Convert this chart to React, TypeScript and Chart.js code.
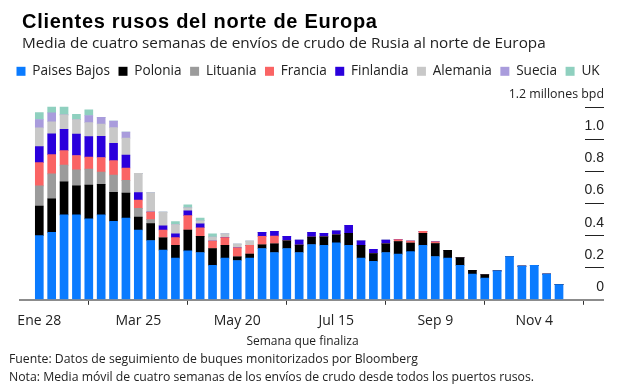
import React, { useEffect, useRef } from "react";
import { Chart, registerables } from "chart.js";

Chart.register(...registerables);

const WEEKS = [
  "Ene 28", "Feb 4", "Feb 11", "Feb 18", "Feb 25", "Mar 4", "Mar 11", "Mar 18",
  "Mar 25", "Abr 1", "Abr 8", "Abr 15", "Abr 22", "Abr 29", "May 6", "May 13",
  "May 20", "May 27", "Jun 3", "Jun 10", "Jun 17", "Jun 24", "Jul 1", "Jul 8",
  "Jul 15", "Jul 22", "Jul 29", "Ago 5", "Ago 12", "Ago 19", "Ago 26", "Sep 2",
  "Sep 9", "Sep 16", "Sep 23", "Sep 30", "Oct 7", "Oct 14", "Oct 21", "Oct 28",
  "Nov 4", "Nov 11", "Nov 18",
];
const TICK_WEEKS = [0, 8, 16, 24, 32, 40];
const Y_TICKS = [0, 0.2, 0.4, 0.6, 0.8, 1.0, 1.2];

const PAISES_BAJOS = [
  0.40, 0.42, 0.53, 0.53, 0.505, 0.53, 0.49, 0.51, 0.435, 0.37,
  0.31, 0.26, 0.305, 0.295, 0.215, 0.26, 0.245, 0.26, 0.32, 0.295,
  0.32, 0.295, 0.345, 0.34, 0.355, 0.34, 0.26, 0.24, 0.295, 0.285,
  0.30, 0.34, 0.27, 0.26, 0.215, 0.16, 0.135, 0.18, 0.27, 0.21,
  0.215, 0.16, 0.095,
];
const POLONIA = [
  0.185, 0.21, 0.205, 0.18, 0.21, 0.19, 0.18, 0.155, 0.08, 0.105,
  0.077, 0.08, 0.13, 0.10, 0.105, 0.08, 0.023, 0.025, 0.023, 0.054,
  0.048, 0.046, 0.046, 0.052, 0.05, 0.075, 0.08, 0.048, 0.054, 0.078,
  0.054, 0.075, 0.08, 0.048, 0.048, 0.023, 0.023, 0, 0, 0,
  0, 0, 0,
];
const LITUANIA = [
  0.125, 0.155, 0.105, 0.10, 0.10, 0.077, 0.108, 0.08, 0.055, 0.025,
  0, 0, 0, 0, 0, 0, 0, 0, 0, 0,
  0, 0, 0, 0, 0, 0, 0, 0, 0, 0,
  0, 0, 0, 0, 0, 0, 0, 0, 0, 0,
  0, 0, 0,
];
const FRANCIA = [
  0.145, 0.12, 0.09, 0.09, 0.075, 0.09, 0.09, 0.077, 0.052, 0.047,
  0.048, 0.048, 0.09, 0.054, 0.046, 0.048, 0.056, 0.054, 0.052, 0.048,
  0, 0, 0, 0, 0, 0, 0, 0, 0, 0.012,
  0.012, 0.012, 0.012, 0, 0, 0, 0, 0, 0, 0,
  0, 0, 0,
];
const FINLANDIA = [
  0.10, 0.13, 0.133, 0.133, 0.127, 0.133, 0.108, 0.08, 0.046, 0,
  0.027, 0.023, 0.029, 0.025, 0, 0, 0, 0, 0.025, 0.03,
  0.027, 0.031, 0.029, 0.023, 0.025, 0.05, 0.027, 0.027, 0.023, 0,
  0, 0, 0, 0, 0, 0, 0, 0, 0, 0,
  0, 0, 0,
];
const ALEMANIA = [
  0.117, 0.075, 0.09, 0.09, 0.088, 0.075, 0.098, 0.106, 0.12, 0.12,
  0.085, 0.058, 0.019, 0.019, 0.025, 0.023, 0.023, 0.027, 0, 0,
  0, 0, 0, 0, 0, 0, 0, 0, 0, 0,
  0, 0, 0, 0, 0, 0, 0, 0, 0, 0,
  0, 0, 0,
];
const SUECIA = [
  0.052, 0.056, 0, 0, 0.044, 0.042, 0.04, 0.038, 0, 0,
  0, 0, 0, 0, 0, 0, 0, 0, 0, 0,
  0, 0, 0, 0, 0, 0, 0, 0, 0, 0,
  0, 0, 0, 0, 0, 0, 0, 0, 0, 0,
  0, 0, 0,
];
const UK = [
  0.044, 0.035, 0.048, 0.033, 0.035, 0, 0, 0, 0, 0,
  0, 0.019, 0.019, 0.017, 0.021, 0, 0, 0, 0, 0,
  0, 0, 0, 0, 0, 0, 0, 0, 0, 0,
  0, 0, 0, 0, 0, 0, 0, 0, 0, 0,
  0, 0, 0,
];

const SERIES_NAMES = ["Paises Bajos", "Polonia", "Lituania", "Francia", "Finlandia", "Alemania", "Suecia", "UK"];
const SERIES_VALUES = [PAISES_BAJOS, POLONIA, LITUANIA, FRANCIA, FINLANDIA, ALEMANIA, SUECIA, UK];
const SERIES_COLORS = ["#0a7bff", "#000000", "#9b9b9b", "#fa6464", "#2a00dc", "#c8c8c8", "#a99cdc", "#8fd0bf"];

const SEGOE = "'Open Sans', 'Noto Sans', sans-serif";
const ARIAL = "'Liberation Sans', Arial, sans-serif";

export default function App() {
  const ref = useRef<HTMLCanvasElement | null>(null);

  useEffect(() => {
    if (!ref.current) return;
    const datasets = SERIES_NAMES.map((name, k) => ({
      label: name,
      data: SERIES_VALUES[k].map((v, i) => ({ x: i, y: v })),
      backgroundColor: SERIES_COLORS[k],
      borderWidth: 0,
      barThickness: 8,
      stack: "s",
    }));
    const chart = new Chart(ref.current, {
      type: "bar",
      data: { datasets },
      options: {
        animation: false,
        responsive: false,
        maintainAspectRatio: false,
        layout: { padding: { left: 8, right: 0, top: 56, bottom: 41 } },
        plugins: {
          legend: {
            display: true,
            position: "top",
            align: "start",
            labels: {
              boxWidth: 9,
              boxHeight: 9,
              padding: 8.5,
              color: "#222",
              font: { family: SEGOE, size: 13.6 },
            },
          },
          tooltip: { enabled: false },
        },
        scales: {
          x: {
            type: "linear",
            min: -1.56,
            max: 44.1,
            stacked: true,
            offset: false,
            afterBuildTicks: (s: any) => {
              s.ticks = TICK_WEEKS.map((v) => ({ value: v }));
            },
            ticks: {
              autoSkip: false,
              maxRotation: 0,
              padding: 8,
              color: "#222",
              font: { family: SEGOE, size: 14 },
              callback: (v: any) => WEEKS[v] ?? "",
            },
            grid: { drawOnChartArea: false, drawTicks: true, tickLength: 5, color: "#333" },
            border: { display: true, color: "#8c8c8c", width: 2 },
            title: {
              display: true,
              text: "Semana que finaliza",
              color: "#222",
              font: { family: SEGOE, size: 12 },
              padding: { top: -3, bottom: 0 },
            },
          },
          y: {
            type: "linear",
            position: "right",
            stacked: true,
            min: 0,
            max: 1.32,
            afterBuildTicks: (s: any) => {
              s.ticks = Y_TICKS.map((v) => ({ value: v }));
            },
            afterFit: (s: any) => {
              s.width = 50;
            },
            ticks: {
              mirror: true,
              padding: 19,
              labelOffset: -13,
              color: "#222",
              font: (ctx: any) =>
                ctx.tick && ctx.tick.value === 1.2
                  ? { family: SEGOE, size: 12.4 }
                  : { family: ARIAL, size: 14 },
              callback: (v: any) => (v === 1.2 ? "1.2 millones bpd" : v === 0 ? "0" : Number(v).toFixed(1)),
            },
            grid: {
              drawOnChartArea: false,
              drawTicks: true,
              tickLength: 19,
              color: (ctx: any) => (ctx.tick && ctx.tick.value === 0 ? "#8c8c8c" : "#222"),
              lineWidth: (ctx: any) => (ctx.tick && ctx.tick.value === 0 ? 2 : 1),
            },
            border: { display: false },
          },
          yl: {
            type: "linear",
            position: "left",
            display: true,
            afterFit: (s: any) => {
              s.width = 12;
            },
            ticks: { display: false },
            grid: { display: false },
            border: { display: false },
          },
        },
      },
    });
    return () => chart.destroy();
  }, []);

  const text = (style: React.CSSProperties, content: string) => (
    <div style={{ position: "absolute", left: 22, whiteSpace: "nowrap", ...style }}>{content}</div>
  );

  return (
    <div style={{ position: "absolute", left: 0, top: 0, width: 635, height: 390, background: "#fff", overflow: "hidden" }}>
      <canvas ref={ref} width={635} height={390} style={{ position: "absolute", left: 0, top: 0, width: 635, height: 390 }} />
      {text({ top: 9, fontFamily: ARIAL, fontWeight: 700, fontSize: 20, lineHeight: "24px", color: "#000", letterSpacing: 0.72 }, "Clientes rusos del norte de Europa")}
      {text({ top: 32, fontFamily: SEGOE, fontSize: 15.3, lineHeight: "20px", color: "#222" }, "Media de cuatro semanas de envíos de crudo de Rusia al norte de Europa")}
      {text({ top: 351, left: 9, fontFamily: SEGOE, fontSize: 12.25, lineHeight: "16px", color: "#222" }, "Fuente: Datos de seguimiento de buques monitorizados por Bloomberg")}
      {text({ top: 369, left: 9, fontFamily: SEGOE, fontSize: 12.25, lineHeight: "16px", color: "#222" }, "Nota: Media móvil de cuatro semanas de los envíos de crudo desde todos los puertos rusos.")}
    </div>
  );
}
